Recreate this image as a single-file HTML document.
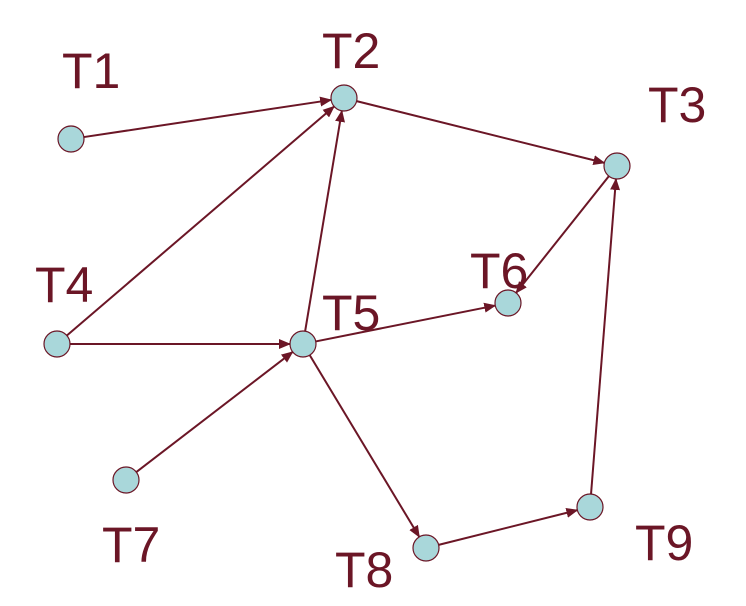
<!DOCTYPE html>
<html><head><meta charset="utf-8"><style>
html,body{margin:0;padding:0;background:#fff;}
svg{display:block;}
text{font-family:"Liberation Sans",Arial,sans-serif;font-size:50px;fill:#6b1626;}
</style></head><body>
<svg id="g" width="746" height="606" viewBox="0 0 746 606">
<defs><marker id="ah" markerWidth="12" markerHeight="10" refX="11" refY="5" orient="auto" markerUnits="userSpaceOnUse"><path d="M0,0 L12,5 L0,10 Z" fill="#6b1626"/></marker></defs>
</svg>
<script>
const nodeNames=["T1","T2","T3","T4","T5","T6","T7","T8","T9"];
const nodeX=[71,344,617,57,303,508,126,426,590];
const nodeY=[139,98,166,344,344,303,480,548,507];
const labelX=[62,322,648,35,322,470,102,335,635];
const labelY=[88,68,122,302,330,288,562,587,560];
const edgeFrom=["T1","T2","T4","T4","T5","T5","T3","T7","T5","T8","T9"];
const edgeTo=["T2","T3","T2","T5","T2","T6","T6","T5","T8","T9","T3"];
const NS="http://www.w3.org/2000/svg";
const svg=document.getElementById('g');
const R=13;
function idx(n){return nodeNames.indexOf(n);}
for(let i=0;i<edgeFrom.length;i++){
  const a=idx(edgeFrom[i]),b=idx(edgeTo[i]);
  const x1=nodeX[a],y1=nodeY[a],x2=nodeX[b],y2=nodeY[b];
  const d=Math.hypot(x2-x1,y2-y1),ux=(x2-x1)/d,uy=(y2-y1)/d;
  const l=document.createElementNS(NS,'line');
  
  
  l.setAttribute('x1',x1+ux*R);l.setAttribute('y1',y1+uy*R);
  l.setAttribute('x2',x2-ux*R);l.setAttribute('y2',y2-uy*R);
  l.setAttribute('stroke','#6b1626');l.setAttribute('stroke-width','2');
  l.setAttribute('marker-end','url(#ah)');
  svg.appendChild(l);
}
for(let i=0;i<nodeNames.length;i++){
  const c=document.createElementNS(NS,'circle');
  
  
  c.setAttribute('cx',nodeX[i]);c.setAttribute('cy',nodeY[i]);c.setAttribute('r',R);
  c.setAttribute('fill','#a9d7da');c.setAttribute('stroke','#6b1626');c.setAttribute('stroke-width','1.2');
  svg.appendChild(c);
  const t=document.createElementNS(NS,'text');
  
  
  t.setAttribute('x',labelX[i]);t.setAttribute('y',labelY[i]);
  t.textContent=nodeNames[i];
  svg.appendChild(t);
}
</script>
</body></html>
